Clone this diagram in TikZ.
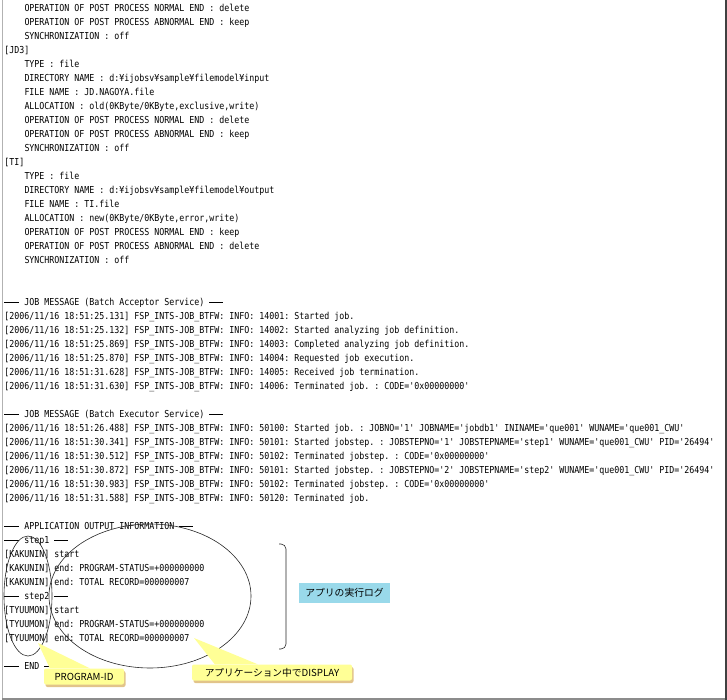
\documentclass[tikz,border=0pt]{standalone}
\usepackage{fontspec}
\setmonofont{DejaVu Sans Mono}[FakeStretch=0.865]
\newfontfamily\jpfont{Noto Sans CJK JP}
\usepackage{xcolor}
\usepackage{tikz}
\usetikzlibrary{shapes,arrows,positioning,shadows}

\definecolor{tagblue}{RGB}{153,217,234}
\definecolor{noteyellow}{RGB}{255,255,150}
\definecolor{noteshade}{RGB}{226,196,138}
\newcommand\logfont{\ttfamily\fontsize{9.6}{14}\selectfont}
\newcommand\dashbar{\makebox[15pt][l]{\rule[3pt]{14pt}{0.6pt}}}

\begin{document}
\begin{tikzpicture}[x=1pt, y=-1pt]
    % Define styles
    \tikzstyle{logline} = [inner sep=0pt, outer sep=0pt, text height=10pt, text depth=4pt, font=\logfont]
    \tikzstyle{ring} = [ellipse, draw=black!85, line width=0.6pt, inner sep=0pt]
    \tikzstyle{logtag} = [rectangle, fill=tagblue, minimum width=91pt, minimum height=20pt, inner sep=0pt, font=\jpfont\fontsize{9.8}{12}\selectfont]
    \tikzstyle{note} = [rectangle, rounded corners=2pt, fill=noteyellow, minimum height=16pt, inner sep=0pt, font=\jpfont\fontsize{9.7}{11}\selectfont, drop shadow={shadow xshift=1.5pt, shadow yshift=-2.5pt, fill=noteshade, opacity=1}]
    \tikzstyle{pointer} = [fill=noteyellow]
    \tikzstyle{bracket} = [draw=black!85, line width=0.6pt, rounded corners=5pt]

    \useasboundingbox (0,0) rectangle (727,700);

    % Nodes
    \node[logline, anchor=north west] (opnorm0) at (24.5,1.3) {OPERATION OF POST PROCESS NORMAL END : delete};
    \node[logline, below right=0pt and 0pt of opnorm0.south west] (opabn0) {OPERATION OF POST PROCESS ABNORMAL END : keep};
    \node[logline, below right=0pt and 0pt of opabn0.south west] (sync0) {SYNCHRONIZATION : off};
    \node[logline, below right=0pt and -20pt of sync0.south west] (jd3) {[JD3]};
    \node[logline, below right=0pt and 20pt of jd3.south west] (jd3type) {TYPE : file};
    \node[logline, below right=0pt and 0pt of jd3type.south west] (jd3dir) {DIRECTORY NAME : d:¥ijobsv¥sample¥filemodel¥input};
    \node[logline, below right=0pt and 0pt of jd3dir.south west] (jd3file) {FILE NAME : JD.NAGOYA.file};
    \node[logline, below right=0pt and 0pt of jd3file.south west] (jd3alloc) {ALLOCATION : old(0KByte/0KByte,exclusive,write)};
    \node[logline, below right=0pt and 0pt of jd3alloc.south west] (jd3opnorm) {OPERATION OF POST PROCESS NORMAL END : delete};
    \node[logline, below right=0pt and 0pt of jd3opnorm.south west] (jd3opabn) {OPERATION OF POST PROCESS ABNORMAL END : keep};
    \node[logline, below right=0pt and 0pt of jd3opabn.south west] (jd3sync) {SYNCHRONIZATION : off};
    \node[logline, below right=0pt and -20pt of jd3sync.south west] (ti) {[TI]};
    \node[logline, below right=0pt and 20pt of ti.south west] (titype) {TYPE : file};
    \node[logline, below right=0pt and 0pt of titype.south west] (tidir) {DIRECTORY NAME : d:¥ijobsv¥sample¥filemodel¥output};
    \node[logline, below right=0pt and 0pt of tidir.south west] (tifile) {FILE NAME : TI.file};
    \node[logline, below right=0pt and 0pt of tifile.south west] (tialloc) {ALLOCATION : new(0KByte/0KByte,error,write)};
    \node[logline, below right=0pt and 0pt of tialloc.south west] (tiopnorm) {OPERATION OF POST PROCESS NORMAL END : keep};
    \node[logline, below right=0pt and 0pt of tiopnorm.south west] (tiopabn) {OPERATION OF POST PROCESS ABNORMAL END : delete};
    \node[logline, below right=0pt and 0pt of tiopabn.south west] (tisync) {SYNCHRONIZATION : off};

    \node[logline, below right=28pt and -20pt of tisync.south west] (accmsg) {\dashbar{} JOB MESSAGE (Batch Acceptor Service) \dashbar};
    \node[logline, below right=0pt and 0pt of accmsg.south west] (acc1) {[2006/11/16 18:51:25.131] FSP\_INTS-JOB\_BTFW: INFO: 14001: Started job.};
    \node[logline, below right=0pt and 0pt of acc1.south west] (acc2) {[2006/11/16 18:51:25.132] FSP\_INTS-JOB\_BTFW: INFO: 14002: Started analyzing job definition.};
    \node[logline, below right=0pt and 0pt of acc2.south west] (acc3) {[2006/11/16 18:51:25.869] FSP\_INTS-JOB\_BTFW: INFO: 14003: Completed analyzing job definition.};
    \node[logline, below right=0pt and 0pt of acc3.south west] (acc4) {[2006/11/16 18:51:25.870] FSP\_INTS-JOB\_BTFW: INFO: 14004: Requested job execution.};
    \node[logline, below right=0pt and 0pt of acc4.south west] (acc5) {[2006/11/16 18:51:31.628] FSP\_INTS-JOB\_BTFW: INFO: 14005: Received job termination.};
    \node[logline, below right=0pt and 0pt of acc5.south west] (acc6) {[2006/11/16 18:51:31.630] FSP\_INTS-JOB\_BTFW: INFO: 14006: Terminated job. : CODE='0x00000000'};

    \node[logline, below right=14pt and 0pt of acc6.south west] (exemsg) {\dashbar{} JOB MESSAGE (Batch Executor Service) \dashbar};
    \node[logline, below right=0pt and 0pt of exemsg.south west] (exe1) {[2006/11/16 18:51:26.488] FSP\_INTS-JOB\_BTFW: INFO: 50100: Started job. : JOBNO='1' JOBNAME='jobdb1' ININAME='que001' WUNAME='que001\_CWU'};
    \node[logline, below right=0pt and 0pt of exe1.south west] (exe2) {[2006/11/16 18:51:30.341] FSP\_INTS-JOB\_BTFW: INFO: 50101: Started jobstep. : JOBSTEPNO='1' JOBSTEPNAME='step1' WUNAME='que001\_CWU' PID='26494'};
    \node[logline, below right=0pt and 0pt of exe2.south west] (exe3) {[2006/11/16 18:51:30.512] FSP\_INTS-JOB\_BTFW: INFO: 50102: Terminated jobstep. : CODE='0x00000000'};
    \node[logline, below right=0pt and 0pt of exe3.south west] (exe4) {[2006/11/16 18:51:30.872] FSP\_INTS-JOB\_BTFW: INFO: 50101: Started jobstep. : JOBSTEPNO='2' JOBSTEPNAME='step2' WUNAME='que001\_CWU' PID='26494'};
    \node[logline, below right=0pt and 0pt of exe4.south west] (exe5) {[2006/11/16 18:51:30.983] FSP\_INTS-JOB\_BTFW: INFO: 50102: Terminated jobstep. : CODE='0x00000000'};
    \node[logline, below right=0pt and 0pt of exe5.south west] (exe6) {[2006/11/16 18:51:31.588] FSP\_INTS-JOB\_BTFW: INFO: 50120: Terminated job.};

    \node[logline, below right=14pt and 0pt of exe6.south west] (appmsg) {\dashbar{} APPLICATION OUTPUT INFORMATION \dashbar};
    \node[logline, below right=0pt and 0pt of appmsg.south west] (step1) {\dashbar{} step1 \dashbar};
    \node[logline, below right=0pt and 0pt of step1.south west] (kak1) {[KAKUNIN] start};
    \node[logline, below right=0pt and 0pt of kak1.south west] (kak2) {[KAKUNIN] end: PROGRAM-STATUS=+000000000};
    \node[logline, below right=0pt and 0pt of kak2.south west] (kak3) {[KAKUNIN] end: TOTAL RECORD=000000007};
    \node[logline, below right=0pt and 0pt of kak3.south west] (step2) {\dashbar{} step2 \dashbar};
    \node[logline, below right=0pt and 0pt of step2.south west] (tyu1) {[TYUUMON] start};
    \node[logline, below right=0pt and 0pt of tyu1.south west] (tyu2) {[TYUUMON] end: PROGRAM-STATUS=+000000000};
    \node[logline, below right=0pt and 0pt of tyu2.south west] (tyu3) {[TYUUMON] end: TOTAL RECORD=000000007};
    \node[logline, below right=14pt and 0pt of tyu3.south west] (endmsg) {\dashbar{} END \dashbar};

    \node[ring, minimum width=48pt, minimum height=120pt] (idring) at (28,596) {};
    \node[ring, minimum width=202pt, minimum height=144pt] (dispring) at (150,596) {};
    \draw[bracket] (279,544) -| (286,649) -- (279,649);
    \node[logtag] (applog) at (344.5,593) {アプリの実行ログ};
    \node[note, minimum width=80pt] (idnote) at (84,676.5) {PROGRAM-ID};
    \node[note, minimum width=160pt] (dispnote) at (272,672.5) {アプリケーション中でDISPLAY};
    \coordinate (idtip) at (38,643);
    \coordinate (disptip) at (194,638);

    % Connections
    \fill[pointer] ([xshift=6pt]idnote.north west) -- (idtip) -- ([xshift=46pt]idnote.north west) -- cycle;
    \fill[pointer] ([xshift=23pt]dispnote.north west) -- (disptip) -- ([xshift=66pt]dispnote.north west) -- cycle;

    % Frame
    \draw[line width=1pt, black!30] (2.5,0) -- (2.5,698);
    \draw[line width=2pt, black!45] (2,699) -- (727,699);
    \draw[line width=2pt, black!75] (726,0) -- (726,700);
\end{tikzpicture}
\end{document}
